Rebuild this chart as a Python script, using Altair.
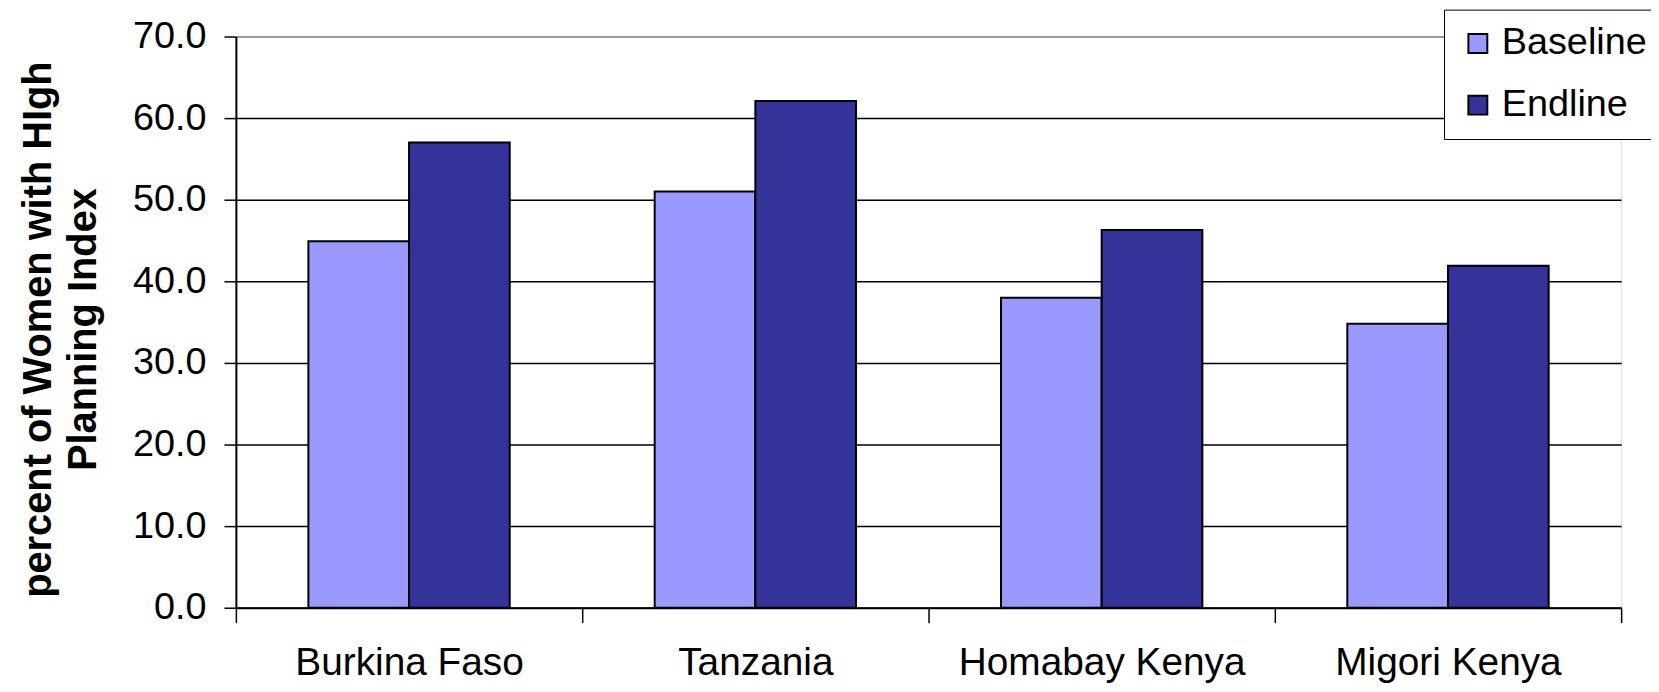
import altair as alt
import pandas as pd

countries = ["Burkina Faso", "Tanzania", "Homabay Kenya", "Migori Kenya"]
series = ["Baseline", "Endline"]
baseline = [44.9, 51.0, 38.0, 34.8]
endline = [57.0, 62.1, 46.3, 41.9]
colors = ["#9999FF", "#333399"]

rows = []
for c, b, e in zip(countries, baseline, endline):
    rows.append({"country": c, "series": "Baseline", "value": b})
    rows.append({"country": c, "series": "Endline", "value": e})
df = pd.DataFrame(rows)

FONT = "Liberation Sans"

chart = alt.Chart(df).mark_bar(stroke="black", strokeWidth=2).encode(
    x=alt.X("country:N", sort=countries,
            scale=alt.Scale(paddingInner=0, paddingOuter=0),
            axis=alt.Axis(title=None, labelAngle=0, labelFontSize=39, labelFont=FONT,
                          labelColor="black", labelLimit=0, tickBand="extent", tickSize=15,
                          tickColor="black", tickWidth=1.5, domainColor="black",
                          domainWidth=2, labelPadding=21, grid=False)),
    xOffset=alt.XOffset("series:N", sort=series,
                        scale=alt.Scale(paddingOuter=0.72, paddingInner=0)),
    y=alt.Y("value:Q", scale=alt.Scale(domain=[0, 70], nice=False),
            axis=alt.Axis(title=["percent of Women with HIgh", "Planning Index"],
                          titleFontSize=40, titleFont=FONT, titleFontWeight="bold",
                          titleColor="black", titlePadding=29, titleLineHeight=45,
                          titleY=294,
                          values=[0, 10, 20, 30, 40, 50, 60, 70], format=".1f",
                          labelFontSize=38, labelFont=FONT, labelColor="black",
                          labelPadding=18, tickSize=12, tickColor="black", tickWidth=1.5,
                          domainColor="black", domainWidth=2,
                          gridColor=alt.condition("datum.value == 70",
                                                  alt.value("#808080"), alt.value("black")),
                          gridWidth=1.5)),
    color=alt.Color("series:N", sort=series,
                    scale=alt.Scale(domain=series, range=colors),
                    legend=alt.Legend(title=None, orient="none", legendX=1214, legendY=-27,
                                      fillColor="white", strokeColor="black",
                                      padding=15, labelFontSize=38, labelFont=FONT,
                                      labelColor="black", symbolType="square",
                                      symbolSize=361, symbolStrokeColor="black",
                                      symbolStrokeWidth=2, symbolOpacity=1,
                                      labelOffset=5, rowPadding=24)),
).properties(
    width=1392, height=574,
    autosize=alt.AutoSizeParams(type="none"),
    padding={"left": 229, "top": 27, "right": 30, "bottom": 75},
).configure_view(
    stroke="#808080", strokeWidth=2
).configure_legend(
    strokeWidth=2
).configure(font=FONT)

chart.save("out.html", embed_options={"renderer": "svg", "actions": False})
